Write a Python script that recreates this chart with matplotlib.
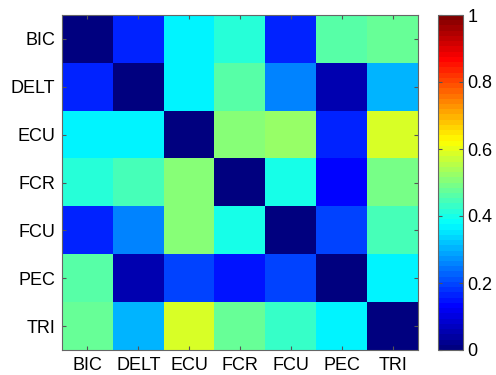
import numpy as np
import matplotlib
matplotlib.use("Agg")
import matplotlib.pyplot as plt
from matplotlib.colors import LinearSegmentedColormap

muscles = ["BIC", "DELT", "ECU", "FCR", "FCU", "PEC", "TRI"]
row_bic  = [0.00, 0.17, 0.37, 0.41, 0.17, 0.46, 0.47]
row_delt = [0.17, 0.00, 0.37, 0.46, 0.26, 0.06, 0.31]
row_ecu  = [0.37, 0.37, 0.00, 0.50, 0.52, 0.17, 0.59]
row_fcr  = [0.42, 0.45, 0.50, 0.00, 0.40, 0.13, 0.49]
row_fcu  = [0.17, 0.26, 0.51, 0.40, 0.00, 0.20, 0.44]
row_pec  = [0.46, 0.06, 0.19, 0.15, 0.20, 0.00, 0.36]
row_tri  = [0.47, 0.31, 0.59, 0.48, 0.43, 0.36, 0.00]
cbar_ticks = [0, 0.2, 0.4, 0.6, 0.8, 1]

data = np.array([row_bic, row_delt, row_ecu, row_fcr, row_fcu, row_pec, row_tri])

jet = LinearSegmentedColormap.from_list(
    "mjet",
    [(0, (0, 0, 0.5)), (0.125, (0, 0, 1)), (0.375, (0, 1, 1)),
     (0.625, (1, 1, 0)), (0.875, (1, 0, 0)), (1, (0.5, 0, 0))], N=64)

plt.rcParams['font.family'] = ['Liberation Sans', 'DejaVu Sans']
fig = plt.figure(figsize=(4.96, 3.75), dpi=100)
W, H = 496, 375
ax = fig.add_axes([62 / W, 1 - 350 / H, 356 / W, 335 / H])
im = ax.imshow(data, cmap=jet, vmin=0, vmax=1, aspect='auto', interpolation='nearest')
ax.set_xticks(range(len(muscles)))
ax.set_xticklabels(muscles, fontsize=13)
ax.set_yticks(range(len(muscles)))
ax.set_yticklabels(muscles, fontsize=13)
ax.tick_params(direction='in', length=3, top=True, right=True, color='#555555', pad=5)
for s in ax.spines.values():
    s.set_color('#666666')
    s.set_linewidth(0.8)

cax = fig.add_axes([438 / W, 1 - 350 / H, 25 / W, 335 / H])
cb = fig.colorbar(im, cax=cax, ticks=cbar_ticks)
cb.ax.set_yticklabels(["0", "0.2", "0.4", "0.6", "0.8", "1"], fontsize=13)
cb.ax.tick_params(direction='in', length=3, left=True, right=True, color='#555555', pad=3)
cb.outline.set_edgecolor('#666666')
cb.outline.set_linewidth(0.8)

fig.savefig("out.png", dpi=100)
